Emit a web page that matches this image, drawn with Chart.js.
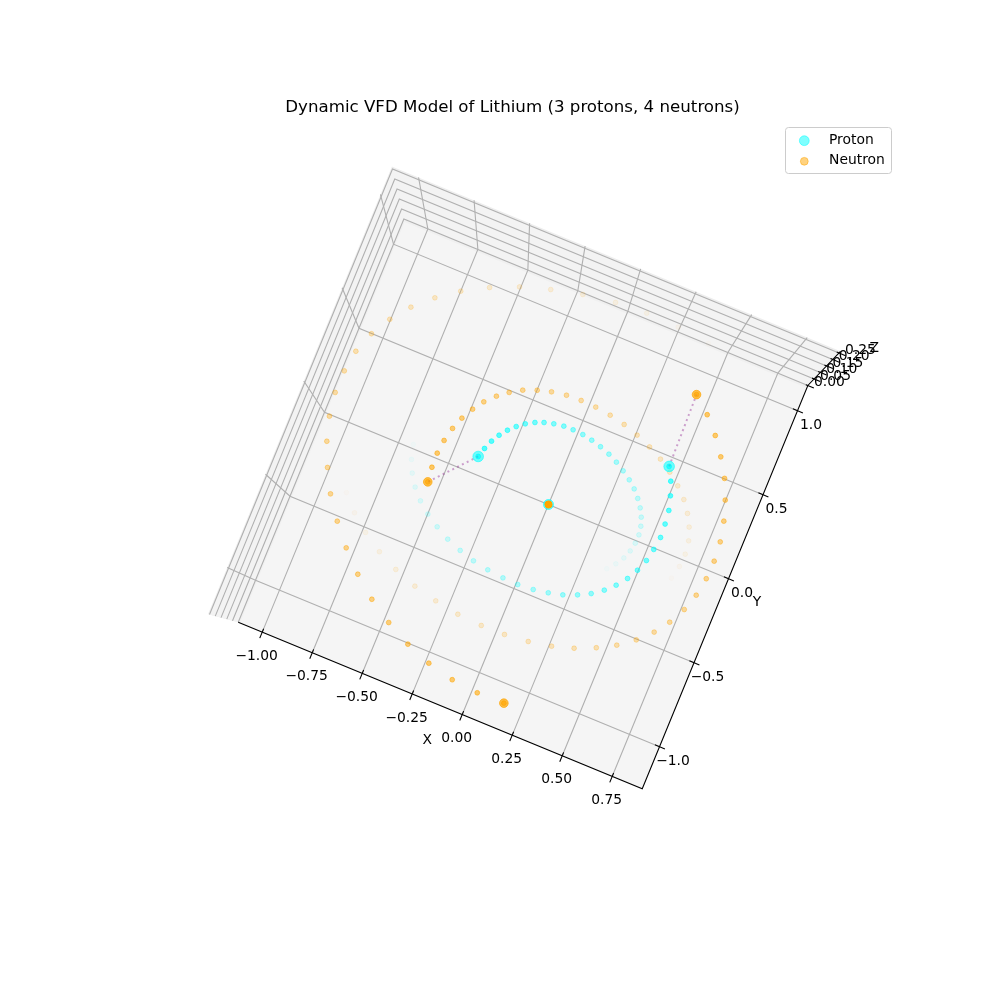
<!DOCTYPE html>
<html>
<head>
<meta charset="utf-8">
<title>Dynamic VFD Model of Lithium</title>
<script src="https://cdn.jsdelivr.net/npm/chart.js@4/dist/chart.umd.min.js"></script>
<style>
  html, body { margin: 0; background: #fff; }
  canvas { display: block; }
</style>
</head>
<body>
<canvas id="chart" width="1000" height="1000"></canvas>
<script>
const TITLE = "Dynamic VFD Model of Lithium (3 protons, 4 neutrons)";
const LEGEND_LABELS = ["Proton", "Neutron"];

const xTicks = [-1, -0.75, -0.5, -0.25, 0, 0.25, 0.5, 0.75];
const xTickLabels = ["−1.00", "−0.75", "−0.50", "−0.25", "0.00", "0.25", "0.50", "0.75"];
const yTicks = [-1, -0.5, 0, 0.5, 1];
const yTickLabels = ["−1.0", "−0.5", "0.0", "0.5", "1.0"];
const zTicks = [0, 0.05, 0.1, 0.15, 0.2, 0.25];
const zTickLabels = ["0.00", "0.05", "0.10", "0.15", "0.20", "0.25"];

// orbit trails, newest point first (X and Y in data units)
const protonAX = [-0.385, -0.372, -0.355, -0.333, -0.306, -0.275, -0.241, -0.202, -0.163, -0.119, -0.072, -0.026, 0.024, 0.072, 0.121, 0.170, 0.216, 0.260, 0.302, 0.339, 0.371, 0.398, 0.419, 0.433, 0.440, 0.439, 0.431, 0.416, 0.392, 0.362];
const protonAY = [0.097, 0.151, 0.203, 0.249, 0.292, 0.329, 0.362, 0.389, 0.408, 0.422, 0.431, 0.432, 0.428, 0.418, 0.403, 0.383, 0.358, 0.328, 0.295, 0.259, 0.218, 0.175, 0.130, 0.083, 0.035, -0.015, -0.065, -0.114, -0.161, -0.205];
const protonBX = [0.449, 0.482, 0.506, 0.525, 0.533, 0.537, 0.529, 0.517, 0.496, 0.468, 0.431, 0.389, 0.339, 0.283, 0.220, 0.154, 0.084, 0.009, -0.066, -0.145, -0.222, -0.297, -0.370, -0.437, -0.499, -0.554, -0.601, -0.638, -0.665, -0.683];
const protonBY = [0.447, 0.375, 0.300, 0.222, 0.145, 0.067, -0.008, -0.080, -0.148, -0.211, -0.269, -0.319, -0.364, -0.399, -0.430, -0.450, -0.465, -0.472, -0.469, -0.460, -0.444, -0.419, -0.388, -0.347, -0.302, -0.250, -0.191, -0.126, -0.058, 0.022];
const neutronAX = [-0.556, -0.564, -0.566, -0.559, -0.544, -0.522, -0.492, -0.457, -0.413, -0.365, -0.311, -0.249, -0.185, -0.115, -0.043, 0.031, 0.107, 0.183, 0.257, 0.331, 0.399, 0.462, 0.520, 0.570, 0.610, 0.641, 0.663, 0.672, 0.669, 0.655];
const neutronAY = [-0.138, -0.055, 0.028, 0.107, 0.186, 0.258, 0.326, 0.387, 0.442, 0.488, 0.528, 0.558, 0.580, 0.594, 0.598, 0.595, 0.584, 0.566, 0.539, 0.505, 0.466, 0.419, 0.366, 0.309, 0.246, 0.180, 0.109, 0.034, -0.041, -0.117];
const neutronBX = [0.440, 0.521, 0.592, 0.653, 0.707, 0.748, 0.779, 0.800, 0.808, 0.805, 0.791, 0.765, 0.725, 0.676, 0.613, 0.539, 0.456, 0.362, 0.262, 0.154, 0.040, -0.075, -0.195, -0.313, -0.428, -0.539, -0.640, -0.733, -0.815, -0.885];
const neutronBY = [0.870, 0.790, 0.701, 0.604, 0.502, 0.393, 0.283, 0.170, 0.059, -0.047, -0.152, -0.250, -0.345, -0.428, -0.505, -0.573, -0.629, -0.678, -0.715, -0.740, -0.754, -0.757, -0.749, -0.727, -0.696, -0.651, -0.595, -0.526, -0.449, -0.363];
const neutronCX = [0.158, 0.026, -0.104, -0.233, -0.356, -0.476, -0.589, -0.693, -0.789, -0.874, -0.951, -1.010, -1.059, -1.092, -1.109, -1.108, -1.093, -1.057, -1.004, -0.935, -0.849, -0.750, -0.633, -0.506, -0.368, -0.222, -0.068, 0.084, 0.243, 0.401];
const neutronCY = [-1.105, -1.108, -1.094, -1.059, -1.006, -0.936, -0.853, -0.755, -0.645, -0.528, -0.403, -0.275, -0.143, -0.010, 0.123, 0.252, 0.376, 0.498, 0.610, 0.716, 0.814, 0.902, 0.981, 1.047, 1.099, 1.141, 1.169, 1.180, 1.175, 1.155];
const nucleusX = [0];
const nucleusY = [0];

// axes limits of the 3D box
const xLim = [-1.12, 0.9], yLim = [-1.25, 1.15], zLim = [-0.015, 0.263];

// mplot3d camera, fitted on the picture: floor is a parallelogram, z grows toward a vanishing point
const CAM = { ox: 548.5, oy: 504.5, xx: 200, xy: 82.4, yx: 69, yy: -168, vx: 512, vy: 695, k: 0.42 };
function project(X, Y, Z = 0) {
  const bx = CAM.ox + X * CAM.xx + Y * CAM.yx, by = CAM.oy + X * CAM.xy + Y * CAM.yy;
  const s = 1 + CAM.k * Z;
  return { x: CAM.vx + (bx - CAM.vx) * s, y: CAM.vy + (by - CAM.vy) * s };
}
const track = (xs, ys) => xs.map((x, i) => project(x, ys[i]));

const CYAN = "0,255,255", ORANGE = "255,165,0", LINK = "rgba(128,0,128,0.35)";
const FONT = "'DejaVu Sans', sans-serif";

function trail(name, xs, ys, rgb, top) {
  const fade = i => `rgba(${rgb},${(top * (1 - i / xs.length)).toFixed(3)})`;
  return { label: name, data: track(xs, ys), showLine: false, pointRadius: 2.4, pointBorderWidth: 1,
    pointBackgroundColor: xs.map((_, i) => fade(i)), pointBorderColor: xs.map((_, i) => fade(i)) };
}
function head(name, xs, ys, rgb, alpha, r) {
  const c = `rgba(${rgb},${alpha})`;
  return { label: name, data: track(xs, ys), showLine: false, pointRadius: r, pointBorderWidth: 1,
    pointBackgroundColor: c, pointBorderColor: c };
}
function link(x1, y1, x2, y2) {
  return { label: "link", data: track([x1, x2], [y1, y2]), showLine: true, pointRadius: 0,
    borderColor: LINK, borderWidth: 2, borderDash: [2, 3.4] };
}

// listed back to front
const layers = [
  trail("Proton A", protonAX, protonAY, CYAN, 0.68),
  trail("Proton B", protonBX, protonBY, CYAN, 0.68),
  trail("Neutron A", neutronAX, neutronAY, ORANGE, 0.6),
  trail("Neutron B", neutronBX, neutronBY, ORANGE, 0.6),
  trail("Neutron C", neutronCX, neutronCY, ORANGE, 0.6),
  link(protonAX[0], protonAY[0], neutronAX[0], neutronAY[0]),
  link(protonBX[0], protonBY[0], neutronBX[0], neutronBY[0]),
  head("Proton", protonAX.slice(0, 1), protonAY.slice(0, 1), CYAN, 0.55, 5.3),
  head("Proton", protonBX.slice(0, 1), protonBY.slice(0, 1), CYAN, 0.55, 5.3),
  head("Neutron", neutronAX.slice(0, 1), neutronAY.slice(0, 1), ORANGE, 0.7, 4.3),
  head("Neutron", neutronBX.slice(0, 1), neutronBY.slice(0, 1), ORANGE, 0.7, 4.3),
  head("Neutron", neutronCX.slice(0, 1), neutronCY.slice(0, 1), ORANGE, 0.7, 4.3),
  head("Proton", nucleusX, nucleusY, CYAN, 0.6, 5),
  head("Neutron", nucleusX, nucleusY, ORANGE, 1, 3.6)
];
layers.forEach((d, i) => { d.order = layers.length - i; });

const axes3d = {
  id: "axes3d",
  beforeDatasetsDraw(chart) {
    const c = chart.ctx, sx = chart.scales.x, sy = chart.scales.y;
    const pt = (X, Y, Z) => { const p = project(X, Y, Z); return [sx.getPixelForValue(p.x), sy.getPixelForValue(p.y)]; };
    const poly = (pts, fill) => {
      c.beginPath();
      pts.forEach((p, i) => i ? c.lineTo(p[0], p[1]) : c.moveTo(p[0], p[1]));
      c.closePath(); c.fillStyle = fill; c.fill();
    };
    const path = (pts, color, w) => {
      c.beginPath();
      pts.forEach((p, i) => i ? c.lineTo(p[0], p[1]) : c.moveTo(p[0], p[1]));
      c.strokeStyle = color; c.lineWidth = w; c.stroke();
    };
    const [x0, x1] = xLim, [y0, y1] = yLim, [z0, z1] = zLim;
    const zTop = zTicks[zTicks.length - 1];

    // panes: side walls, then floor, then the lighter wall strips
    const wall = (a, b) => {
      poly([pt(x0, y0, a), pt(x0, y1, a), pt(x1, y1, a), pt(x1, y1, b), pt(x0, y1, b), pt(x0, y0, b)], "#eeeeee");
    };
    wall(z0, z1);
    poly([pt(x0, y0, 0), pt(x0, y1, 0), pt(x1, y1, 0), pt(x1, y0, 0)], "#f5f5f5");
    poly([pt(x0, y0, 0), pt(x0, y1, 0), pt(x1, y1, 0), pt(x1, y1, z0), pt(x0, y1, z0), pt(x0, y0, z0)], "#f0f0f0");
    poly([pt(x0, y0, 0), pt(x0, y1, 0), pt(x1, y1, 0), pt(x1, y1, zTop), pt(x0, y1, zTop), pt(x0, y0, zTop)], "#f3f3f3");

    // grid
    const GRID = "#b0b0b0", GW = 1.1;
    xTicks.forEach(t => path([pt(t, y0, 0), pt(t, y1, 0), pt(t, y1, z1)], GRID, GW));
    yTicks.forEach(t => path([pt(x1, t, 0), pt(x0, t, 0), pt(x0, t, z1)], GRID, GW));
    zTicks.forEach(t => path([pt(x0, y0, t), pt(x0, y1, t), pt(x1, y1, t)], GRID, GW));

    // axis lines and ticks
    path([pt(x0, y0, 0), pt(x1, y0, 0), pt(x1, y1, 0), pt(x1, y1, z1)], "#000", 1.1);
    xTicks.forEach(t => path([pt(t, y0 + 0.02, 0), pt(t, y0 - 0.036, 0)], "#000", 1.1));
    yTicks.forEach(t => path([pt(x1 - 0.023, t, 0), pt(x1 + 0.027, t, 0)], "#000", 1.1));
    zTicks.forEach(t => path([pt(x1 - 0.01, y1, t), pt(x1 + 0.03, y1, t)], "#000", 1.1));

    // tick labels and axis names
    c.fillStyle = "#000"; c.textAlign = "center"; c.textBaseline = "middle";
    c.font = `13.89px ${FONT}`;
    const label = (txt, p, dx, dy) => c.fillText(txt, p[0] + dx, p[1] + dy);
    xTicks.forEach((t, i) => label(xTickLabels[i], pt(t, y0, 0), -5.6, 24));
    yTicks.forEach((t, i) => label(yTickLabels[i], pt(x1, t, 0), 13.5, 14.8));
    zTicks.forEach((t, i) => label(zTickLabels[i], pt(x1, y1, t), 21.5, -3));
    label("X", pt((x0 + x1) / 2, y0, 0), -13, 35);
    label("Y", pt(x1, (y0 + y1) / 2, 0), 32, 15.4);
    label("Z", pt(x1, y1, (z0 + z1) / 2), 51, -21);

    // title
    c.font = `16.67px ${FONT}`;
    c.fillText(TITLE, 512.5, 108);
  },
  afterDatasetsDraw(chart) {
    // legend box, upper right
    const c = chart.ctx;
    c.beginPath(); c.roundRect(785.5, 127.5, 106, 46, 3);
    c.fillStyle = "rgba(255,255,255,0.8)"; c.fill();
    c.strokeStyle = "#cccccc"; c.lineWidth = 1; c.stroke();
    const mark = (y, r, rgb) => {
      c.beginPath(); c.arc(804.3, y, r, 0, Math.PI * 2);
      c.fillStyle = `rgba(${rgb},0.5)`; c.fill();
      c.strokeStyle = `rgba(${rgb},0.5)`; c.lineWidth = 1; c.stroke();
    };
    mark(140.7, 4.9, CYAN);
    mark(161.3, 3.9, ORANGE);
    c.fillStyle = "#000"; c.textAlign = "left"; c.textBaseline = "middle";
    c.font = `13.89px ${FONT}`;
    c.fillText(LEGEND_LABELS[0], 829, 140);
    c.fillText(LEGEND_LABELS[1], 829, 160);
  }
};

new Chart(document.getElementById("chart"), {
  type: "scatter",
  data: { datasets: layers },
  options: {
    responsive: false, animation: false, devicePixelRatio: 1,
    layout: { padding: 0, autoPadding: false },
    clip: false,
    plugins: { legend: { display: false }, title: { display: false }, tooltip: { enabled: false } },
    scales: {
      x: { type: "linear", min: 0, max: 1000, display: false },
      y: { type: "linear", min: 0, max: 1000, reverse: true, display: false }
    }
  },
  plugins: [axes3d]
});
</script>
</body>
</html>
